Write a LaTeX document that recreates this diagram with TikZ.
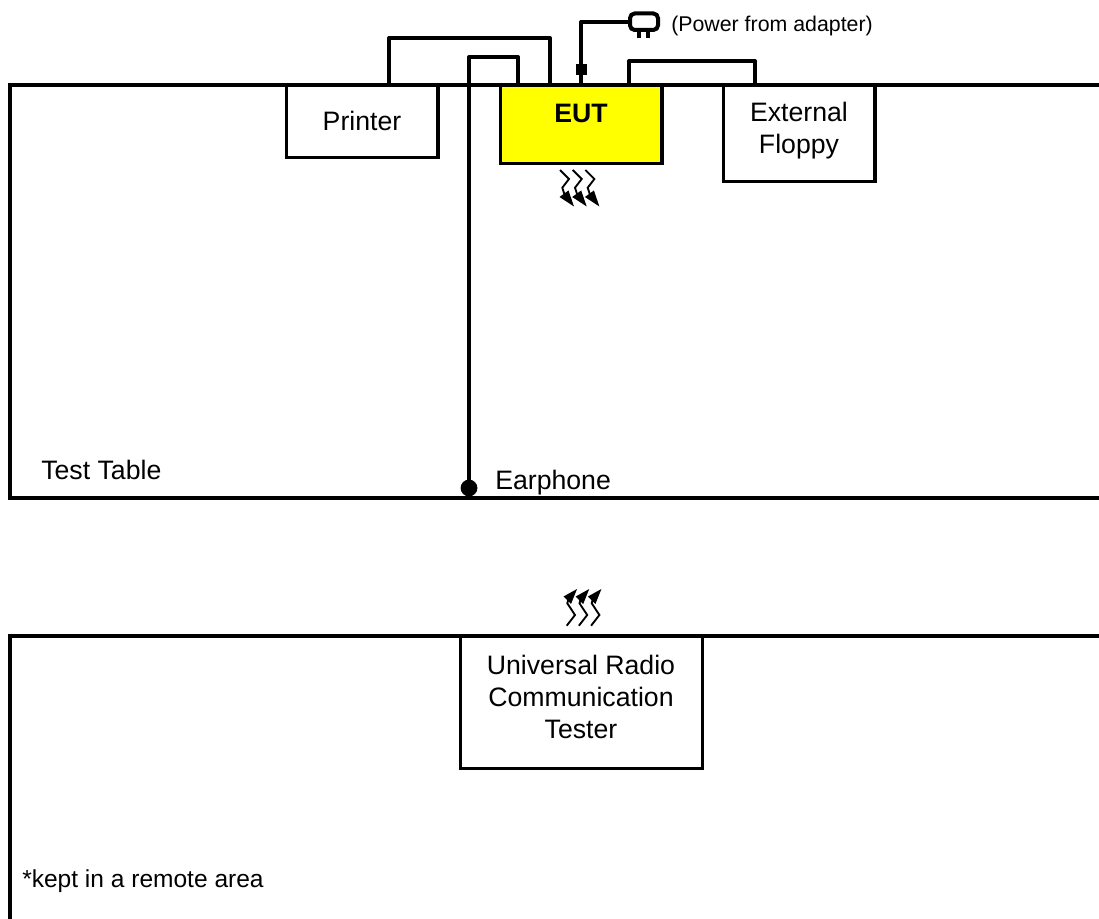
\documentclass[tikz,border=0pt]{standalone}
\usepackage{fontspec}
\setmainfont{Liberation Sans}
\usetikzlibrary{arrows.meta}
\definecolor{eutyellow}{RGB}{255,255,0}
\tikzset{
  x=0.75pt,y=-0.75pt,
  frameline/.style={line width=3pt,line cap=butt,line join=miter},
  cable/.style={line width=3pt,line join=round},
  boxnode/.style={draw=black,line width=2.6pt,fill=white,minimum height=10pt,inner sep=0pt,anchor=north west},
  lab/.style={font=\fontsize{20pt}{24pt}\selectfont,align=center,inner sep=0pt,text=black},
  remotelab/.style={font=\fontsize{18.4pt}{24pt}\selectfont,inner sep=0pt,text=black},
  smalllab/.style={font=\fontsize{16pt}{18pt}\selectfont,inner sep=0pt,text=black},
  wavepath/.style={line width=1.4pt,line join=miter},
}
\begin{document}
\begin{tikzpicture}
\useasboundingbox (0,0) rectangle (1099,919);
% coordinates of frames
\coordinate (tr) at (1099,85);
\coordinate (tl) at (10,85);
\coordinate (bl) at (10,498);
\coordinate (br) at (1099,498);
\coordinate (rr) at (1099,636);
\coordinate (rl) at (10,636);
\coordinate (rb) at (10,919);
\draw[frameline] (tr) -- (tl) -- (bl) -- (br);
\draw[frameline] (rr) -- (rl) -- (rb);
% cables behind
\coordinate (c1a) at (389,85);\coordinate (c1b) at (389,38);\coordinate (c1c) at (550,38);\coordinate (c1d) at (550,85);
\draw[cable] (c1a) -- (c1b) -- (c1c) -- (c1d);
\coordinate (c2a) at (469,488);\coordinate (c2b) at (469,57);\coordinate (c2c) at (518,57);\coordinate (c2d) at (518,85);
\draw[cable] (c2a) -- (c2b) -- (c2c) -- (c2d);
\coordinate (c3a) at (629,85);\coordinate (c3b) at (629,61);\coordinate (c3c) at (755,61);\coordinate (c3d) at (755,85);
\draw[cable] (c3a) -- (c3b) -- (c3c) -- (c3d);
\coordinate (c4a) at (581,85);\coordinate (c4b) at (581,22);\coordinate (c4c) at (630,22);
\draw[cable] (c4a) -- (c4b) -- (c4c);
% boxes
\node[boxnode,minimum width=113.5pt,minimum height=54pt] (printer) at (285,84) {};
\node[boxnode,fill=eutyellow,minimum width=121pt,minimum height=58.5pt] (eut) at (499,84) {};
\node[boxnode,minimum width=113.5pt,minimum height=72pt] (floppy) at (722,84) {};
\node[boxnode,minimum width=181.5pt,minimum height=99pt] (tester) at (459,635) {};
% table line over box tops
\draw[frameline] (printer.north west) ++(0,1) -- ++(600,0);
% labels
\node[lab] (tprinter) at (362,121) {Printer};
\node[lab] (teut) at (581,113) {\textbf{EUT}};
\node[lab] (tfloppy) at (799,131) {External\\Floppy};
\node[lab] (ttester) at (581,697) {Universal Radio\\Communication\\Tester};
\node[lab,anchor=west] (ttable) at (41,470) {Test Table};
\node[lab,anchor=west] (tear) at (495,483) {Earphone};
\node[remotelab,anchor=west] (tremote) at (22,881) {*kept in a remote area};
\node[smalllab,anchor=west] (tpower) at (671,26) {(Power from adapter)};
% earphone dot and connector block
\fill (c2a) circle[radius=6.3pt] coordinate (dot);
\fill (576,64) rectangle (587,75);
% plug
\draw[line width=3pt,rounded corners=3.5pt] (630,13.5) rectangle (658,30);
\draw[line width=2.8pt] (639,30) -- (639,38);
\draw[line width=2.8pt] (648,30) -- (648,38);
% waves
\foreach \d in {0,12.7,25.4}{
  \draw[wavepath] (560+\d,170) -- (569+\d,179) -- (562.3+\d,187.7) -- (565+\d,196);
  \fill (574+\d,206.5) -- (559.5+\d,197) -- (568.5+\d,190.5) -- cycle;
}
\foreach \d in {0,12.2,24.4}{
  \draw[wavepath] (566.7+\d,625.7) -- (575+\d,615) -- (567.3+\d,603.3) -- (569+\d,597);
  \fill (577+\d,589) -- (563.5+\d,596.5) -- (571+\d,604) -- cycle;
}
\end{tikzpicture}
\end{document}
